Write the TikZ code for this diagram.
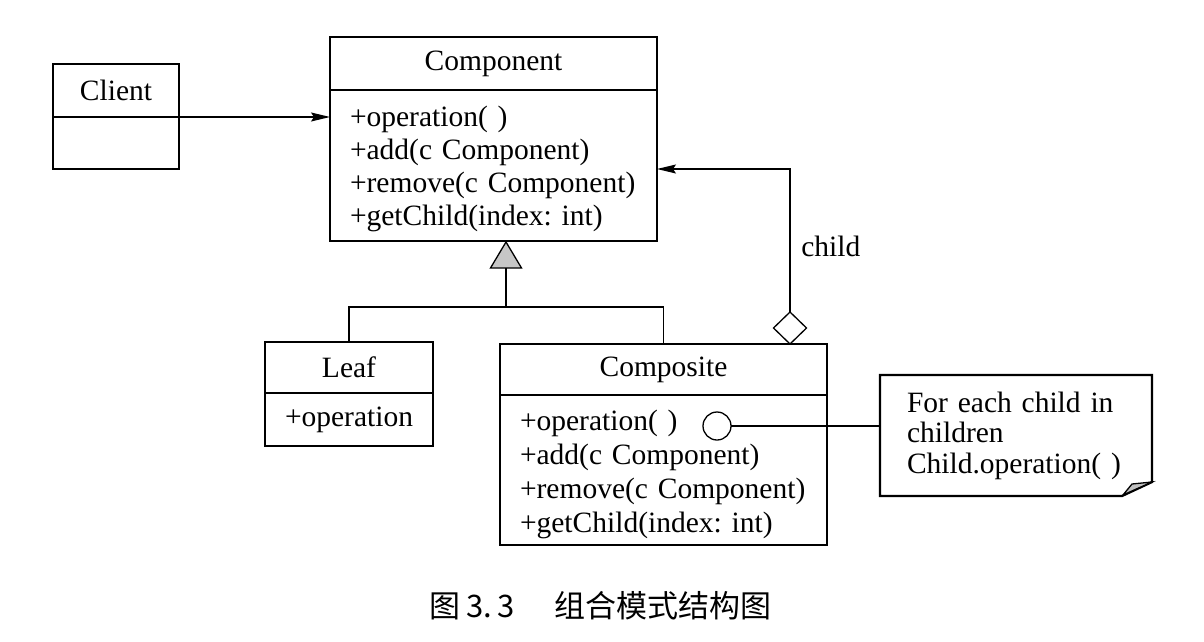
\documentclass[tikz,border=0pt]{standalone}
\usepackage{fontspec}
\setmainfont{Liberation Serif}
\newfontfamily\cjk{Noto Sans CJK SC}
\usetikzlibrary{shapes.geometric,arrows.meta,calc}
\frenchspacing
\begin{document}
\begin{tikzpicture}[x=1pt,y=-1pt,
  every node/.style={font=\fontsize{29.5}{33}\selectfont, outer sep=0pt},
  boxline/.style={line width=2.3pt},
  titlebox/.style={draw, boxline, rectangle, inner sep=0pt, anchor=north west},
  bodybox/.style={draw, boxline, rectangle, inner xsep=20pt, inner ysep=0pt, anchor=north west, align=left},
  conn/.style={line width=1.3pt},
  arr/.style={conn, -{Stealth[length=19pt,width=9pt,inset=3pt]}},
]
\useasboundingbox (0,0) rectangle (1204,642);
% Client
\node[titlebox, minimum width=126pt, minimum height=53pt] (clt) at (53,64) {Client};
\node[titlebox, minimum width=126pt, minimum height=52pt] (clb) at (clt.south west) {};
% Component
\node[titlebox, minimum width=327pt, minimum height=53pt] (cmpt) at (330,37) {Component};
\node[bodybox, text width=287pt, minimum height=151pt] (cmpb) at (cmpt.south west)
  {\rule{0pt}{27pt}+operation( )\\+add(c Component)\\+remove(c Component)\\+getChild(index: int)};
% Leaf
\node[titlebox, minimum width=168pt, minimum height=51pt] (lft) at (265,342) {Leaf};
\node[bodybox, text width=128pt, minimum height=53pt] (lfb) at (lft.south west) {+operation};
% Composite
\node[titlebox, minimum width=327pt, minimum height=51pt] (cpt) at (500,344) {Composite};
\node[bodybox, text width=287pt, minimum height=150pt, font=\fontsize{29.5}{34}\selectfont] (cpb) at (cpt.south west)
  {\rule{0pt}{30pt}+operation( )\\+add(c Component)\\+remove(c Component)\\+getChild(index: int)};
% Note
\node[inner xsep=27pt, inner ysep=0pt, minimum height=121pt, text width=218pt, align=left,
  anchor=north west, font=\fontsize{29.5}{30.5}\selectfont] (note) at (880,375)
  {For each child in\\children\\Child.operation( )};
\draw[boxline] (note.north west) -- (note.north east) -- ($(note.south east)+(0,-14)$)
  -- ($(note.south east)+(-30,0)$) -- (note.south west) -- cycle;
\draw[conn, fill=gray!50] ($(note.south east)+(-29,-1)$) -- ($(note.south east)+(-20,-12)$)
  -- ($(note.south east)+(0,-14)$) -- cycle;
% port circle
\node[draw, conn, circle, minimum size=28pt, inner sep=0pt] (port) at (717,426) {};
\draw[conn] (port.east) -- (port.east -| note.west);
% aggregation
\node[draw, conn, diamond, minimum width=33pt, minimum height=32pt, inner sep=0pt, fill=white] (agg) at (790,328) {};
\draw[arr] (agg.north) |- ([yshift=-3.5pt]cmpb.east);
\node[anchor=base west] (lbl) at (798,256) {child};
% client association
\draw[arr] (clt.south east) -- (clt.south east -| cmpb.west);
% generalization
\coordinate (tb) at (506,268);
\coordinate (jn) at (506,307);
\draw[conn, fill=gray!45] (506,242) -- (521.5,268) -- (490.5,268) -- cycle;
\draw[conn] (tb) -- (jn);
\draw[conn] (lft.north) |- (jn) -| (cpt.north);
% caption
\node[font=\cjk\fontsize{31}{31}\selectfont, anchor=base west] (cap) at (426,617)
  {图\hspace{6pt}3.\hspace{5pt}3\hspace{40pt}组合模式结构图};
\end{tikzpicture}
\end{document}
